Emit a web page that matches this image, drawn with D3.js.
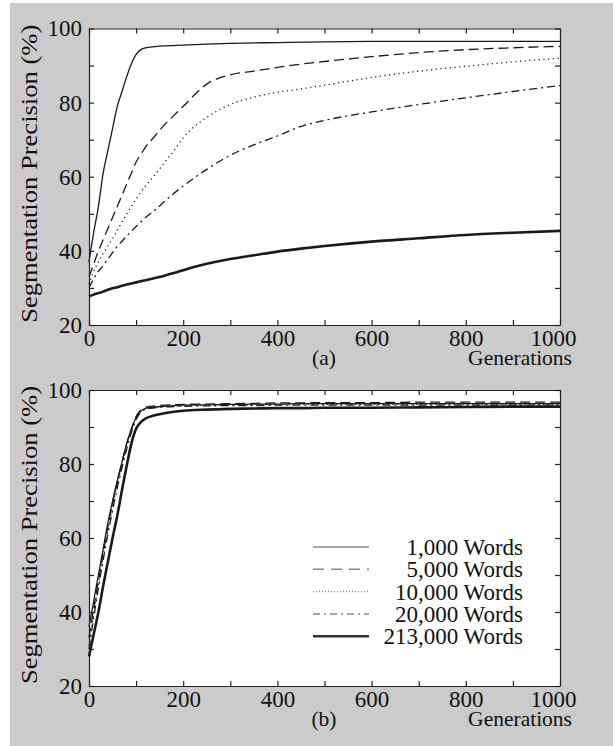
<!DOCTYPE html>
<html>
<head>
<meta charset="utf-8">
<script src="https://cdn.jsdelivr.net/npm/d3@7"></script>
<style>
  body { margin: 0; background: #fff; }
  svg { display: block; }
  text { font-family: "Liberation Serif", "Times New Roman", serif; fill: #111; }
</style>
</head>
<body>
<div id="chart"></div>
<script>
// generations sampled for every curve
var gens = [0, 10, 20, 30, 40, 50, 60, 70, 80, 90, 100, 110, 120, 140, 160, 180, 200, 250, 300, 350, 400, 450, 500, 600, 700, 800, 900, 1000];

var seriesNames = ["1,000 Words", "5,000 Words", "10,000 Words", "20,000 Words", "213,000 Words"];

// panel (a)
var a1000   = [37, 45, 52, 61, 67, 73, 79, 83, 87, 90.5, 93, 94.3, 94.8, 95.1, 95.3, 95.4, 95.5, 95.8, 96, 96.1, 96.2, 96.3, 96.4, 96.5, 96.5, 96.5, 96.5, 96.5];
var a5000   = [33, 36.5, 40, 43, 46, 49, 52, 55, 58, 61, 64, 66, 68, 71, 74, 76.5, 79, 85, 87.5, 88.5, 89.5, 90.4, 91.1, 92.4, 93.5, 94.3, 94.8, 95.2];
var a10000  = [31, 34.5, 37, 39.3, 41.3, 43.3, 45.5, 47.8, 50, 52, 54, 55.8, 57.5, 60.5, 63.8, 67, 70.5, 76, 79.5, 81.5, 82.8, 83.7, 84.7, 86.8, 88.5, 89.8, 91, 92];
var a20000  = [30, 32.5, 34.5, 36, 37.8, 39.5, 41.2, 42.6, 44, 45.3, 46.6, 47.8, 49, 51, 53.3, 55.5, 57.5, 62, 65.8, 68.6, 71, 73.6, 75.2, 77.5, 79.5, 81.3, 83, 84.6];
var a213000 = [27.7, 28.2, 28.6, 29, 29.5, 29.9, 30.2, 30.6, 30.9, 31.2, 31.5, 31.8, 32.1, 32.7, 33.3, 34, 34.8, 36.5, 37.8, 38.8, 39.8, 40.6, 41.3, 42.5, 43.4, 44.3, 44.9, 45.4];

// panel (b)
var b1000   = [36, 43, 50, 57, 64, 70, 75.5, 80.5, 85.5, 89.5, 92.5, 94.3, 95, 95.4, 95.6, 95.8, 95.9, 96, 96.1, 96.2, 96.2, 96.3, 96.3, 96.3, 96.3, 96.3, 96.3, 96.3];
var b5000   = [33, 41, 48.5, 56, 63, 69.5, 75, 80.5, 85.5, 89.5, 92.8, 94.6, 95.3, 95.7, 95.9, 96, 96.1, 96.2, 96.3, 96.4, 96.5, 96.5, 96.6, 96.6, 96.7, 96.7, 96.7, 96.7];
var b10000  = [31, 39.5, 47.5, 55, 62, 68.5, 74.5, 80, 85, 89, 92.5, 94.3, 95, 95.4, 95.6, 95.7, 95.8, 95.9, 96, 96, 96.1, 96.1, 96.1, 96.1, 96.1, 96.1, 96.1, 96.1];
var b20000  = [30, 38.5, 46.5, 54, 61, 67.5, 73.5, 79, 84, 88.5, 92, 94, 94.8, 95.2, 95.4, 95.5, 95.6, 95.7, 95.8, 95.8, 95.9, 95.9, 95.9, 95.9, 95.9, 95.9, 95.9, 95.9];
var b213000 = [28, 34, 40, 47, 53.5, 60, 66, 73, 79.5, 85.5, 89.5, 91.3, 92.3, 93.2, 93.7, 94.1, 94.4, 94.7, 94.9, 95, 95.1, 95.1, 95.2, 95.2, 95.3, 95.4, 95.5, 95.5];

var width = 613, height = 746;

var svg = d3.select("#chart").append("svg")
    .attr("width", width)
    .attr("height", height);

// grey paper behind the figure
svg.append("rect")
    .attr("x", 10).attr("y", 3)
    .attr("width", width - 10).attr("height", height - 3)
    .attr("fill", "#cbcbcb");

// line styles, same order as seriesNames
var dashes = [null, "10,5", "1.2,3.5", "8,4,2,4", null];
var widths = [1.3, 1.3, 1.3, 1.3, 2.6];

function drawPanel(top, bottom, series, tag) {
    var x = d3.scaleLinear().domain([0, 1000]).range([89, 560]);
    var y = d3.scaleLinear().domain([20, 100]).range([bottom, top]);
    var g = svg.append("g");

    g.append("rect")
        .attr("x", 89).attr("y", top)
        .attr("width", 560 - 89).attr("height", bottom - top)
        .attr("fill", "#fff");

    var line = d3.line()
        .x((d, i) => x(gens[i]))
        .y(d => y(d))
        .curve(d3.curveMonotoneX);

    g.append("g").selectAll("path")
        .data(series)
        .enter()
        .append("path")
        .attr("d", line)
        .attr("fill", "none")
        .attr("stroke", "#1a1a1a")
        .attr("stroke-width", (d, i) => widths[i])
        .attr("stroke-dasharray", (d, i) => dashes[i]);

    // axes with inward ticks on all four sides
    var xt = d3.range(0, 1001, 100), yt = d3.range(20, 101, 10);
    var bx = g.append("g").attr("transform", "translate(0," + bottom + ")")
        .call(d3.axisBottom(x).tickValues(xt).tickSize(-5).tickSizeOuter(0).tickPadding(5)
            .tickFormat(d => d % 200 === 0 ? d : ""));
    bx.selectAll("text").filter(d => d === 1000).attr("dx", -7);
    g.append("g").attr("transform", "translate(0," + top + ")")
        .call(d3.axisTop(x).tickValues(xt).tickSize(-5).tickSizeOuter(0).tickFormat(""));
    g.append("g").attr("transform", "translate(89,0)")
        .call(d3.axisLeft(y).tickValues(yt).tickSize(-5).tickSizeOuter(0).tickPadding(7)
            .tickFormat(d => d % 20 === 0 ? d : ""));
    g.append("g").attr("transform", "translate(560,0)")
        .call(d3.axisRight(y).tickValues(yt).tickSize(-5).tickSizeOuter(0).tickFormat(""));

    g.selectAll(".domain").attr("stroke", "#222").attr("stroke-width", 1.2);
    g.selectAll(".tick line").attr("stroke", "#222").attr("stroke-width", 1.2);
    g.selectAll(".tick text")
        .style("font-family", '"Liberation Serif", "Times New Roman", serif')
        .style("font-size", "23px")
        .attr("fill", "#111");

    g.append("text")
        .attr("transform", "rotate(-90)")
        .attr("x", -((top + bottom) / 2 - 3))
        .attr("y", 37)
        .attr("text-anchor", "middle")
        .attr("textLength", 298)
        .attr("lengthAdjust", "spacingAndGlyphs")
        .style("font-size", "24px")
        .text("Segmentation Precision (%)");

    g.append("text")
        .attr("x", 572).attr("y", bottom + 40)
        .attr("text-anchor", "end")
        .style("font-size", "21.5px")
        .text("Generations");

    g.append("text")
        .attr("x", 324).attr("y", bottom + 40)
        .attr("text-anchor", "middle")
        .style("font-size", "21.5px")
        .text(tag);

    return { x: x, y: y };
}

drawPanel(28.5, 325, [a1000, a5000, a10000, a20000, a213000], "(a)");
drawPanel(390, 686, [b1000, b5000, b10000, b20000, b213000], "(b)");

// legend in panel (b)
var legend = svg.append("g").selectAll("g")
    .data(seriesNames)
    .enter()
    .append("g")
    .attr("transform", (d, i) => "translate(0," + (555 + i * 22.3) + ")");

legend.append("line")
    .attr("x1", 313).attr("x2", 369)
    .attr("y1", -8).attr("y2", -8)
    .attr("stroke", (d, i) => i === 4 ? "#333" : "#888")
    .attr("stroke-width", (d, i) => i === 4 ? 2.4 : 1.5)
    .attr("stroke-dasharray", (d, i) => ["", "11,7", "1,2", "7,4,2,4", ""][i]);

legend.append("text")
    .attr("x", 523)
    .attr("text-anchor", "end")
    .style("font-size", "23px")
    .text(d => d);
</script>
</body>
</html>
